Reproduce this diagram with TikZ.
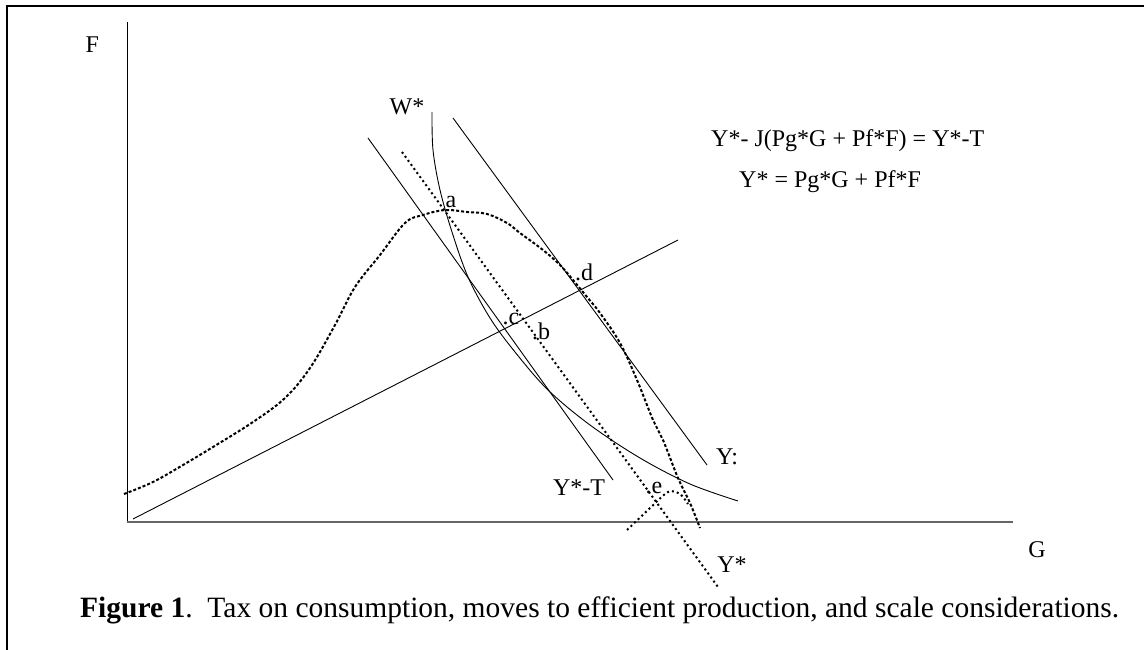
\documentclass[tikz,border=0pt]{standalone}
\usepackage{fontspec}
\setmainfont{Liberation Serif}

\begin{document}
\begin{tikzpicture}[x=1pt, y=-1pt,
    font=\fontsize{24}{28}\selectfont,
    prodcurve/.style={line width=2pt, dash pattern=on 3pt off 2pt},
    dotline/.style={line width=2pt, dash pattern=on 2pt off 3pt},
    thinline/.style={line width=0.9pt}]
    \useasboundingbox (0,0) rectangle (1144,650);

    % Frame of the figure
    \draw[line width=2pt] (7,650) -- (7,6) -- (1144,6);

    % Axes G and F
    \draw[thinline] (127,22) -- (127,522);
    \draw[black!60, line width=1.2pt] (127,522) -- (1013,522);
    \node[anchor=base west] (labF) at (82,53) {F};
    \node (labG) at (1037,550) {G};

    % Production possibility curve
    \draw[prodcurve] plot[smooth, tension=0.6] coordinates {(124,494) (153,482) (183,465)
        (213,447) (253,422) (285,398) (310,368) (335,325) (355,287) (380,255) (405,223)
        (423,215) (445,210) (467,212) (487,214) (507,223) (520,233) (543,250) (560,265)
        (573,280) (587,297) (600,313) (620,343) (637,380) (653,420) (663,440) (678,478)
        (690,503) (700,528)};

    % Indifference curve W*
    \draw[thinline] plot[smooth, tension=0.55] coordinates {(432,112) (433,150) (440,190)
        (452,232) (468,277) (490,318) (515,352) (548,390) (590,425) (640,458) (690,484)
        (738,501)};
    \node (labW) at (407,107) {W*};

    % Budget lines and the ray from the origin
    \draw[thinline] (368,138) -- (613,480);
    \draw[thinline] (453,118) -- (707,465);
    \draw[thinline] (133,519) -- (678,240);
    \draw[dotline] (402,152) -- (718,587);
    \draw[dotline] plot[smooth] coordinates {(627,530) (648,510) (668,492) (680,494) (688,504)};
    \node (labYT) at (579,488) {Y*-T};
    \node (labYc) at (727,457) {Y:};
    \node (labYs) at (732,565) {Y*};

    % Points
    \node (pta) at (451,202) {a};
    \foreach \n/\x/\y in {b/541/331, c/511/319, d/584/272, e/654/488}
        \node (pt\n) at (\x,\y) {.\n};

    % Equations
    \node[anchor=base west, inner sep=0] (eqT) at (711,147) {Y*- J(Pg*G + Pf*F) = Y*-T};
    \node[anchor=base west, inner sep=0] (eqY) at (739,188) {Y* = Pg*G + Pf*F};

    % Caption
    \node[anchor=base west, inner sep=0, font=\fontsize{29.5}{34}\selectfont] (caption) at (80,617)
        {\textbf{Figure 1}.\ \ Tax on consumption, moves to efficient production, and scale considerations.};
\end{tikzpicture}
\end{document}
